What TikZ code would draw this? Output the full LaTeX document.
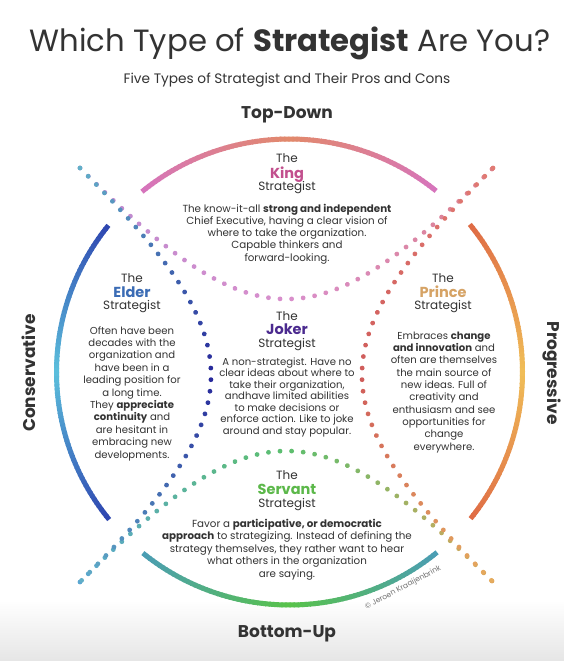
\documentclass[tikz,border=0pt]{standalone}
\usepackage{fontspec}
\setmainfont{Poppins}
\usetikzlibrary{decorations.markings}

\definecolor{txt}{HTML}{333333}
\definecolor{cKing}{HTML}{C2508E}
\definecolor{cElder}{HTML}{3B6CB5}
\definecolor{cPrince}{HTML}{D6A365}
\definecolor{cJoker}{HTML}{4B2A8F}
\definecolor{cServant}{HTML}{5CB84A}
\definecolor{arcTopEnd}{HTML}{D674BD}
\definecolor{arcTopMid}{HTML}{E2896B}
\definecolor{arcLeftEnd}{HTML}{2E45B0}
\definecolor{arcLeftMid}{HTML}{5CC0DC}
\definecolor{arcRightEnd}{HTML}{DF6B45}
\definecolor{arcRightMid}{HTML}{F0BE58}
\definecolor{arcBotEnd}{HTML}{4B9DB5}
\definecolor{arcBotMid}{HTML}{58C24A}
\definecolor{dLeftEnd}{HTML}{62B0C8}
\definecolor{dLeftMid}{HTML}{26279A}
\definecolor{dTopA}{HTML}{B889D0}
\definecolor{dTopMid}{HTML}{D98FCC}
\definecolor{dTopB}{HTML}{DD8088}
\definecolor{dRightA}{HTML}{E17B74}
\definecolor{dRightMid}{HTML}{CF5C5A}
\definecolor{dRightB}{HTML}{E6AD5E}
\definecolor{dBotA}{HTML}{5AA6D2}
\definecolor{dBotMid}{HTML}{5CBF6E}
\definecolor{dBotB}{HTML}{E0A55A}

\newcommand\gdot[3]{%
  \pgfmathsetmacro\gfr{\pgfkeysvalueof{/pgf/decoration/mark info/distance from start}/\pgfdecoratedpathlength}%
  \pgfmathsetmacro\gpp{100*abs(1-2*\gfr)}%
  \ifdim\gfr pt<0.5pt
    \fill[#1!\gpp!#2] (0,0) circle (2.4pt);%
  \else
    \fill[#3!\gpp!#2] (0,0) circle (2.4pt);%
  \fi}

\newcommand\garc[6]{%
  \foreach \a in {#1,...,#2}{%
    \pgfmathsetmacro\gq{min(100,100*abs(\a+0.5-#3)/#4)}%
    \pgfmathsetmacro\gb{\a+1.3}%
    \draw[line width=5pt, #5!\gq!#6] ({289.5+233*cos(\a)},{372-233*sin(\a)}) -- ({289.5+233*cos(\gb)},{372-233*sin(\gb)});
  }}

\tikzset{
  dotcurve/.style n args={3}{decoration={markings, mark=between positions 0 and 1 step 11.6pt with {\gdot{#1}{#2}{#3}}}, decorate},
  body/.style={align=center, text=txt, font=\fontsize{10.1}{12.4}\selectfont, inner sep=0pt, anchor=base},
  hdr/.style={text=txt, font=\fontsize{12}{14}\selectfont, inner sep=0pt, anchor=base},
  nm/.style={font=\fontsize{14.5}{16}\selectfont\bfseries, inner sep=0pt, anchor=base},
  axis/.style={text=txt, font=\fontsize{17}{20}\selectfont\bfseries, inner sep=0pt, anchor=base},
}

\begin{document}
\begin{tikzpicture}[x=1pt, y=-1pt]
\useasboundingbox (0,0) rectangle (564,661);
\fill[white] (0,0) rectangle (564,661);
\fill[top color=white, bottom color=black!10] (0,600) rectangle (564,661);

% coordinates
\coordinate (TL) at (80,168);
\coordinate (TR) at (493,168);
\coordinate (BL) at (80,582);
\coordinate (BR) at (493,582);
\coordinate (cTL) at (254.7,342.7);
\coordinate (cTR) at (318.3,342.7);
\coordinate (cBL) at (254.7,407.3);
\coordinate (cBR) at (318.3,407.3);

% outer arcs
\garc{51}{128}{90}{39}{arcTopEnd}{arcTopMid}
\garc{141}{218}{180}{39}{arcLeftEnd}{arcLeftMid}
\garc{-39}{38}{0}{39}{arcRightEnd}{arcRightMid}
\garc{231}{308}{270}{39}{arcBotEnd}{arcBotMid}

% dotted curves
\path[dotcurve={dTopA}{dTopMid}{dTopB}] (TL) .. controls (cTL) and (cTR) .. (TR);
\path[dotcurve={dBotA}{dBotMid}{dBotB}] (BL) .. controls (cBL) and (cBR) .. (BR);
\path[dotcurve={dLeftEnd}{dLeftMid}{dLeftEnd}] (TL) .. controls (cTL) and (cBL) .. (BL);
\path[dotcurve={dRightA}{dRightMid}{dRightB}] (TR) .. controls (cTR) and (cBR) .. (BR);

% titles
\node[anchor=base, text=txt, font=\fontsize{30.7}{36}\selectfont, inner sep=0pt] (title) at (290,52) {Which Type of \textbf{Strategist} Are You?};
\node[anchor=base, text=txt, font=\fontsize{13.7}{16}\selectfont, inner sep=0pt] (sub) at (287,83) {Five Types of Strategist and Their Pros and Cons};
\node[axis] (top) at (287,118) {Top-Down};
\node[axis] (bot) at (287,637) {Bottom-Up};
\node[axis, rotate=90] (cons) at (35,373) {Conservative};
\node[axis, rotate=-90] (prog) at (547,373) {Progressive};

% King
\node[hdr] (kthe) at (287,162) {The};
\node[nm, text=cKing] (kname) at (287,178) {King};
\node[hdr] (kstr) at (287,190) {Strategist};
\node[body, font=\fontsize{10.3}{12.2}\selectfont] (kbody) at (287,261) {The know-it-all \textbf{strong and independent}\\Chief Executive, having a clear vision of\\where to take the organization.\\Capable thinkers and\\forward-looking.};

% Elder
\node[hdr] (ethe) at (132,282) {The};
\node[nm, text=cElder] (ename) at (132,297) {Elder};
\node[hdr] (estr) at (132,309) {Strategist};
\node[body] (ebody) at (132,458) {Often have been\\decades with the\\organization and\\have been in a\\leading position for\\a long time.\\They \textbf{appreciate}\\\textbf{continuity} and\\are hesitant in\\embracing new\\developments.};

% Prince
\node[hdr] (pthe) at (443,282) {The};
\node[nm, text=cPrince] (pname) at (443,297) {Prince};
\node[hdr] (pstr) at (443,309) {Strategist};
\node[body, font=\fontsize{10.1}{12.3}\selectfont] (pbody) at (444,450) {Embraces \textbf{change}\\\textbf{and innovation} and\\often are themselves\\the main source of\\new ideas. Full of\\creativity and\\enthusiasm and see\\opportunities for\\change\\everywhere.};

% Joker
\node[hdr] (jthe) at (287,320) {The};
\node[nm, text=cJoker] (jname) at (287,334) {Joker};
\node[hdr] (jstr) at (287,347) {Strategist};
\node[body, font=\fontsize{10.1}{11.5}\selectfont] (jbody) at (287,434) {A non-strategist. Have no\\clear ideas about where to\\take their organization,\\andhave limited abilities\\to make decisions or\\enforce action. Like to joke\\around and stay popular.};

% Servant
\node[hdr] (sthe) at (287,479) {The};
\node[nm, text=cServant] (sname) at (287,494) {Servant};
\node[hdr] (sstr) at (287,507) {Strategist};
\node[body, font=\fontsize{10.3}{12.4}\selectfont] (sbody) at (287,577) {Favor a \textbf{participative, or democratic}\\\textbf{approach} to strategizing. Instead of defining the\\strategy themselves, they rather want to hear\\what others in the organization\\are saying.};

% copyright
\node[rotate=28, text=black!55, font=\fontsize{7.5}{9}\selectfont, inner sep=0pt] (copy) at (403,588) {© Jeroen Kraaijenbrink};
\end{tikzpicture}
\end{document}
